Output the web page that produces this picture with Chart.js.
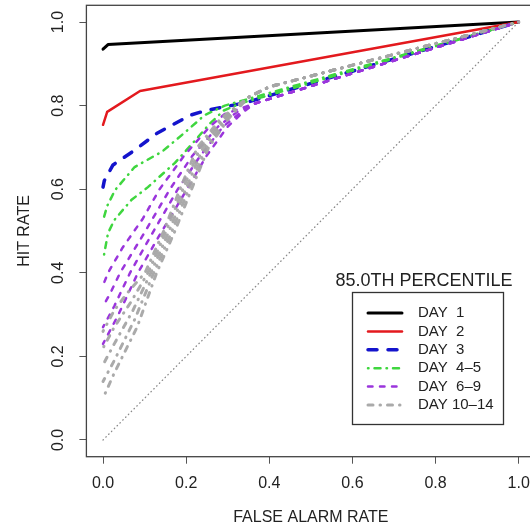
<!DOCTYPE html>
<html>
<head>
<meta charset="utf-8">
<script src="https://cdn.jsdelivr.net/npm/chart.js@4.4.1/dist/chart.umd.min.js"></script>
<style>
  html, body { margin: 0; padding: 0; background: #fff; overflow: hidden; }
  #wrap { width: 540px; height: 527px; }
</style>
</head>
<body>
<div id="wrap"><canvas id="roc" width="540" height="527"></canvas></div>
<script>
// ROC curves, [false alarm rate, hit rate] pairs
const day1 = [[0, 0.935], [0.012, 0.946], [1, 1]];
const day2 = [[0, 0.754], [0.01, 0.785], [0.089, 0.835], [1, 1]];
const day3 = [[0, 0.605], [0.003, 0.62], [0.024, 0.658], [0.077, 0.694], [0.13, 0.734], [0.21, 0.777], [0.25, 0.789], [0.343, 0.807], [1, 1]];
const day4a = [[0, 0.525], [0.01, 0.56], [0.029, 0.598], [0.076, 0.653], [0.142, 0.69], [0.195, 0.734], [0.244, 0.777], [0.293, 0.80], [1, 1]];
const day4b = [[0, 0.43], [0.012, 0.495], [0.027, 0.526], [0.068, 0.574], [0.108, 0.605], [0.173, 0.663], [0.22, 0.715], [0.255, 0.755], [0.29, 0.788], [0.33, 0.805], [1, 1]];
const day6a = [[0, 0.37], [0.012, 0.40], [0.047, 0.46], [0.096, 0.53], [0.136, 0.60], [0.195, 0.68], [0.257, 0.75], [0.293, 0.78], [0.365, 0.805], [1, 1]];
const day6b = [[0, 0.32], [0.017, 0.35], [0.041, 0.40], [0.096, 0.49], [0.161, 0.60], [0.215, 0.68], [0.277, 0.75], [0.323, 0.785], [0.365, 0.805], [1, 1]];
const day6c = [[0, 0.27], [0.027, 0.32], [0.065, 0.40], [0.116, 0.49], [0.18, 0.60], [0.234, 0.68], [0.289, 0.75], [0.333, 0.785], [0.365, 0.805], [1, 1]];
const day6d = [[0, 0.23], [0.037, 0.30], [0.084, 0.40], [0.136, 0.49], [0.202, 0.60], [0.249, 0.68], [0.30, 0.75], [0.338, 0.785], [0.365, 0.805], [1, 1]];
const day10a = [[0, 0.26], [0.027, 0.31], [0.057, 0.35], [0.101, 0.40], [0.146, 0.50], [0.185, 0.60], [0.227, 0.70], [0.284, 0.77], [0.35, 0.82], [0.40, 0.845], [1, 1]];
const day10b = [[0, 0.22], [0.027, 0.27], [0.067, 0.33], [0.108, 0.40], [0.152, 0.50], [0.192, 0.60], [0.234, 0.70], [0.289, 0.77], [0.35, 0.82], [0.40, 0.845], [1, 1]];
const day10c = [[0, 0.18], [0.027, 0.23], [0.072, 0.31], [0.115, 0.40], [0.159, 0.50], [0.199, 0.60], [0.241, 0.70], [0.294, 0.77], [0.35, 0.82], [0.40, 0.845], [1, 1]];
const day10d = [[0, 0.14], [0.027, 0.19], [0.077, 0.29], [0.122, 0.40], [0.166, 0.50], [0.206, 0.60], [0.248, 0.70], [0.298, 0.77], [0.35, 0.82], [0.40, 0.845], [1, 1]];
const day10e = [[0, 0.10], [0.027, 0.16], [0.082, 0.27], [0.129, 0.40], [0.173, 0.50], [0.213, 0.60], [0.254, 0.70], [0.303, 0.77], [0.35, 0.82], [0.40, 0.845], [1, 1]];
const noSkill = [[0, 0], [1, 1]];

const legendLabels = ['DAY  1', 'DAY  2', 'DAY  3', 'DAY  4\u20135', 'DAY  6\u20139', 'DAY 10\u201314'];
const legendTitle = '85.0TH PERCENTILE';
const xTicks = [0, 0.2, 0.4, 0.6, 0.8, 1.0];
const yTicks = [0, 0.2, 0.4, 0.6, 0.8, 1.0];

const FONT = '"Liberation Sans", Arial, sans-serif';

// line styles per legend group
const styles = [
    { color: '#000000', width: 3, dash: [] },
    { color: '#e3191e', width: 2.5, dash: [] },
    { color: '#1414cc', width: 3.5, dash: [9, 11] },
    { color: '#3fd63f', width: 2.5, dash: [0.5, 6, 6, 6] },
    { color: '#9a35dc', width: 2.5, dash: [4.5, 7.5] },
    { color: 'rgba(165,165,165,0.95)', width: 3, dash: [5, 7, 0.5, 7] }
];

const groups = [[day1], [day2], [day3], [day4a, day4b], [day6a, day6b, day6c, day6d],
    [day10a, day10b, day10c, day10d, day10e]];

function toPoints(arr) {
    return arr.map(p => ({ x: p[0], y: p[1] }));
}

// shift the dash pattern so curves of one group share the same phase at (1,1),
// otherwise their common tail fills in solid
function endAlignedOffset(ctx) {
    const ds = ctx.dataset;
    const xs = ctx.chart.scales.x, ys = ctx.chart.scales.y;
    if (!ds || !xs || !ys || !ds.borderDash || !ds.borderDash.length) return 0;
    let len = 0;
    for (let i = 1; i < ds.data.length; i++) {
        len += Math.hypot(xs.getPixelForValue(ds.data[i].x) - xs.getPixelForValue(ds.data[i - 1].x),
            ys.getPixelForValue(ds.data[i].y) - ys.getPixelForValue(ds.data[i - 1].y));
    }
    const period = ds.borderDash.reduce((a, b) => a + b, 0);
    return (period - len % period) % period;
}

const datasets = [{
    label: 'no skill',
    data: toPoints(noSkill),
    borderColor: '#8a8a8a',
    borderWidth: 1.3,
    borderDash: [0.5, 3.5],
    borderCapStyle: 'round'
}];
groups.forEach((curves, g) => {
    curves.forEach(c => {
        datasets.push({
            label: legendLabels[g],
            data: toPoints(c),
            borderColor: styles[g].color,
            borderWidth: styles[g].width,
            borderDash: styles[g].dash,
            borderDashOffset: endAlignedOffset,
            borderCapStyle: 'round',
            borderJoinStyle: 'round'
        });
    });
});
// later datasets on top, like R
datasets.forEach((d, i) => {
    d.order = -i;
    d.pointRadius = 0;
    d.tension = 0;
    d.fill = false;
});

// box round the plot, rotated y labels, legend
const extras = {
    id: 'extras',
    afterDatasetsDraw(chart) {
        const ctx = chart.ctx;
        const a = chart.chartArea;
        ctx.save();
        ctx.strokeStyle = '#444';
        ctx.lineWidth = 1.3;
        ctx.strokeRect(a.left, a.top, a.right - a.left, a.bottom - a.top);

        // y tick labels, rotated as in R
        const ys = chart.scales.y;
        ctx.fillStyle = '#222';
        ctx.font = '16px ' + FONT;
        ctx.textAlign = 'center';
        ctx.textBaseline = 'middle';
        yTicks.forEach(v => {
            ctx.save();
            ctx.translate(59, ys.getPixelForValue(v));
            ctx.rotate(-Math.PI / 2);
            ctx.fillText(v.toFixed(1), 0, 0);
            ctx.restore();
        });

        // legend
        ctx.font = '18px ' + FONT;
        ctx.fillText(legendTitle, 424, 281);
        ctx.strokeStyle = '#333';
        ctx.lineWidth = 1.3;
        ctx.strokeRect(352.5, 292.5, 151, 132);
        ctx.font = '15px ' + FONT;
        ctx.textAlign = 'left';
        legendLabels.forEach((lab, i) => {
            const y = 313 + i * 18.4;
            const s = styles[i];
            ctx.save();
            ctx.strokeStyle = s.color;
            ctx.lineWidth = s.width;
            ctx.lineCap = 'round';
            ctx.setLineDash(s.dash);
            ctx.beginPath();
            ctx.moveTo(368, y);
            ctx.lineTo(402, y);
            ctx.stroke();
            ctx.restore();
            ctx.fillStyle = '#222';
            ctx.fillText(lab, 418, y);
        });
        ctx.restore();
    }
};

new Chart(document.getElementById('roc'), {
    type: 'line',
    data: { datasets: datasets },
    options: {
        responsive: false,
        animation: false,
        devicePixelRatio: 1,
        layout: { padding: { top: 5.3, right: 4.4, left: 0, bottom: 0 } },
        plugins: { legend: { display: false }, tooltip: { enabled: false } },
        scales: {
            x: {
                type: 'linear',
                min: -0.04,
                max: 1.04,
                afterBuildTicks: s => { s.ticks = xTicks.map(v => ({ value: v })); },
                afterFit: s => { s.height = 70.3; },
                ticks: {
                    callback: v => Number(v).toFixed(1),
                    color: '#222',
                    font: { family: FONT, size: 16 },
                    padding: 10,
                    maxRotation: 0,
                    autoSkip: false
                },
                grid: { drawOnChartArea: false, tickLength: 7, tickColor: '#555', tickWidth: 1 },
                border: { display: false },
                title: {
                    display: true,
                    text: 'FALSE ALARM RATE',
                    color: '#222',
                    font: { family: FONT, size: 16 },
                    padding: { top: 0, bottom: 0 }
                }
            },
            y: {
                type: 'linear',
                min: -0.04,
                max: 1.04,
                afterBuildTicks: s => { s.ticks = yTicks.map(v => ({ value: v })); },
                afterFit: s => { s.width = 86.4; },
                ticks: { display: false },
                grid: { drawOnChartArea: false, tickLength: 7, tickColor: '#555', tickWidth: 1 },
                border: { display: false },
                title: {
                    display: true,
                    text: 'HIT RATE',
                    color: '#222',
                    font: { family: FONT, size: 16 },
                    padding: { top: 15, bottom: 0 }
                }
            }
        }
    },
    plugins: [extras]
});
</script>
</body>
</html>
